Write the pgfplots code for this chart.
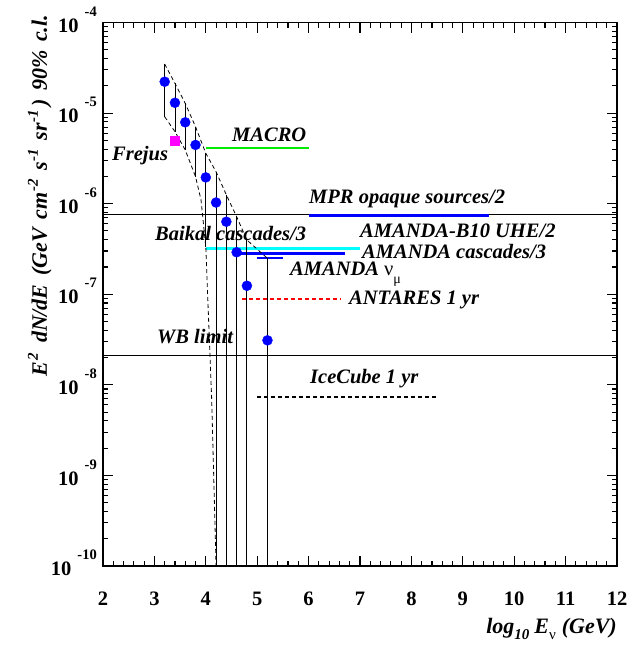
\documentclass[border=0pt]{standalone}
\usepackage{fontspec}
\setmainfont{Liberation Serif}
\usepackage{pgfplots}
\pgfplotsset{compat=1.18}
\definecolor{rblue}{RGB}{0,0,255}
\definecolor{rgreen}{RGB}{0,235,0}
\definecolor{rcyan}{RGB}{0,255,255}
\definecolor{rmag}{RGB}{255,0,255}
\definecolor{rred}{RGB}{255,0,0}
\newcommand\lab{\fontsize{20.5}{24}\selectfont\bfseries\itshape}
\newcommand\labb{\fontsize{22}{24}\selectfont\bfseries\itshape}
\newcommand\subs[1]{\raisebox{-6pt}{\fontsize{15}{15}\selectfont #1}}
\newcommand\sups[1]{\hspace{1pt}\raisebox{9pt}{\fontsize{15}{15}\selectfont #1}\hspace{3pt}}
\newcommand\ytl[1]{10\hspace{6pt}\raisebox{16pt}{\fontsize{14.5}{14.5}\selectfont #1}}
\begin{document}
\begin{tikzpicture}
\useasboundingbox (-103pt,-82pt) rectangle (527pt,566pt);
\begin{axis}[
  at={(0pt,0pt)}, anchor=south west,
  scale only axis, width=514pt, height=543.5pt,
  xmin=2, xmax=12, ymode=log, ymin=1e-10, ymax=1e-4,
  clip=false,
  axis line style={line width=1.6pt},
  tick style={line width=1.1pt, black},
  tick align=inside, xtick pos=both, ytick pos=both,
  major tick length=10pt, minor tick length=5pt,
  xtick={2,3,4,5,6,7,8,9,10,11,12},
  xticklabels={2,3,4,5,6,7,8,9,10,11,12},
  minor x tick num=4,
  ytick={1e-10,1e-9,1e-8,1e-7,1e-6,1e-5,1e-4},
  yticklabels={\ytl{-10},\ytl{-9},\ytl{-8},\ytl{-7},\ytl{-6},\ytl{-5},\ytl{-4}},
  minor ytick={2e-10,3e-10,4e-10,5e-10,6e-10,7e-10,8e-10,9e-10,
               2e-9,3e-9,4e-9,5e-9,6e-9,7e-9,8e-9,9e-9,
               2e-8,3e-8,4e-8,5e-8,6e-8,7e-8,8e-8,9e-8,
               2e-7,3e-7,4e-7,5e-7,6e-7,7e-7,8e-7,9e-7,
               2e-6,3e-6,4e-6,5e-6,6e-6,7e-6,8e-6,9e-6,
               2e-5,3e-5,4e-5,5e-5,6e-5,7e-5,8e-5,9e-5},
  xticklabel style={font=\fontsize{20.5}{20.5}\selectfont\bfseries, anchor=north, inner sep=0pt, yshift=-26pt},
  yticklabel style={font=\fontsize{20.5}{20.5}\selectfont\bfseries, anchor=east, inner sep=0pt, xshift=-6pt, yshift=3pt},
]
% full-width lines
\addplot[black, line width=0.9pt] coordinates {(2,7.64e-7) (12,7.64e-7)};
\addplot[black, line width=0.9pt] coordinates {(2,2.10e-8) (12,2.10e-8)};
% experiment limits
\addplot[rgreen, line width=1.8pt] coordinates {(4.0,4.08e-6) (6.0,4.08e-6)};
\addplot[rblue, line width=2.6pt] coordinates {(6.0,7.38e-7) (9.5,7.38e-7)};
\addplot[rcyan, line width=2.6pt] coordinates {(4.0,3.18e-7) (7.0,3.18e-7)};
\addplot[rblue, line width=2.6pt] coordinates {(4.6,2.81e-7) (6.7,2.81e-7)};
\addplot[rblue, line width=2pt] coordinates {(5.0,2.49e-7) (5.5,2.49e-7)};
\addplot[rred, line width=1.8pt, dash pattern=on 4pt off 3pt] coordinates {(4.7,8.81e-8) (6.62,8.81e-8)};
\addplot[black, line width=1.8pt, dash pattern=on 4pt off 3pt] coordinates {(5.0,7.41e-9) (8.5,7.41e-9)};
% band
\addplot[black, line width=0.8pt, dash pattern=on 4pt off 3pt] coordinates {
(3.2,3.48e-5) (3.4,2.13e-5) (3.6,1.28e-5) (3.8,7.08e-6) (4.0,3.60e-6) (4.2,2.25e-6)
(4.4,1.25e-6) (4.6,7.18e-7) (4.8,3.97e-7) (5.2,2.49e-7)};
\addplot[black, line width=0.8pt, dash pattern=on 4pt off 3pt] coordinates {
(3.2,9.12e-6) (3.4,6.24e-6) (3.6,3.92e-6) (3.8,1.99e-6) (3.907,1.10e-6) (4.0,3.33e-7)
(4.115,6.8e-9) (4.2,1e-10)};
% error bars
\addplot[black, line width=0.9pt, unbounded coords=jump] coordinates {
(3.2,3.48e-5) (3.2,9.12e-6) (3.2,nan)
(3.4,2.13e-5) (3.4,6.24e-6) (3.4,nan)
(3.6,1.28e-5) (3.6,3.92e-6) (3.6,nan)
(3.8,7.08e-6) (3.8,1.99e-6) (3.8,nan)
(4.0,3.60e-6) (4.0,3.33e-7) (4.0,nan)
(4.2,2.25e-6) (4.2,1e-10) (4.2,nan)
(4.4,1.25e-6) (4.4,1e-10) (4.4,nan)
(4.6,7.18e-7) (4.6,1e-10) (4.6,nan)
(4.8,3.97e-7) (4.8,1e-10) (4.8,nan)
(5.2,2.49e-7) (5.2,1e-10)};
% points
\addplot[only marks, mark=*, mark size=5pt, rblue] coordinates {
(3.2,2.22e-5) (3.4,1.30e-5) (3.6,7.91e-6) (3.8,4.45e-6) (4.0,1.95e-6)
(4.2,1.03e-6) (4.4,6.32e-7) (4.6,2.91e-7) (4.8,1.24e-7) (5.2,3.10e-8)};
\addplot[only marks, mark=square*, mark size=4.5pt, rmag] coordinates {(3.4,4.92e-6)};
% labels
\node[anchor=base west, inner sep=0pt, font=\lab] at (axis cs:4.51,4.80e-6) {MACRO};
\node[anchor=base west, inner sep=0pt, font=\lab] at (axis cs:2.175,3.00e-6) {Frejus};
\node[anchor=base west, inner sep=0pt, font=\lab] at (axis cs:6.008,1.005e-6) {MPR opaque sources/2};
\node[anchor=base west, inner sep=0pt, font=\lab] at (axis cs:7.0,4.28e-7) {AMANDA-B10 UHE/2};
\node[anchor=base west, inner sep=0pt, font=\lab] at (axis cs:7.039,2.48e-7) {AMANDA cascades/3};
\node[anchor=base west, inner sep=0pt, font=\lab] at (axis cs:5.638,1.63e-7) {AMANDA {\upshape\mdseries ν}\raisebox{-8pt}{\fontsize{14}{14}\selectfont\upshape\mdseries μ}};
\node[anchor=base west, inner sep=0pt, font=\lab] at (axis cs:6.786,7.62e-8) {ANTARES 1 yr};
\node[anchor=base west, inner sep=0pt, font=\lab] at (axis cs:3.012,3.97e-7) {Baikal cascades/3};
\node[anchor=base west, inner sep=0pt, font=\lab] at (axis cs:3.051,2.86e-8) {WB limit};
\node[anchor=base west, inner sep=0pt, font=\lab] at (axis cs:6.027,1.04e-8) {IceCube 1 yr};
% axis titles
\node[anchor=base east, inner sep=0pt, font=\labb] at (axis description cs:1,-0.125)
  {log\subs{10}\hspace{5pt}E\subs{\upshape\mdseries ν}\hspace{6pt}(GeV)};
\node[anchor=base east, inner sep=0pt, rotate=90, font=\labb] at (axis description cs:-0.109,1.014)
  {E\sups{2}\hspace{2pt} dN/dE\hspace{3pt} (GeV\hspace{3pt} cm\sups{-2} s\sups{-1} sr\sups{-1})\hspace{3pt} 90\%\hspace{3pt} c.l.};
\end{axis}
\end{tikzpicture}
\end{document}
